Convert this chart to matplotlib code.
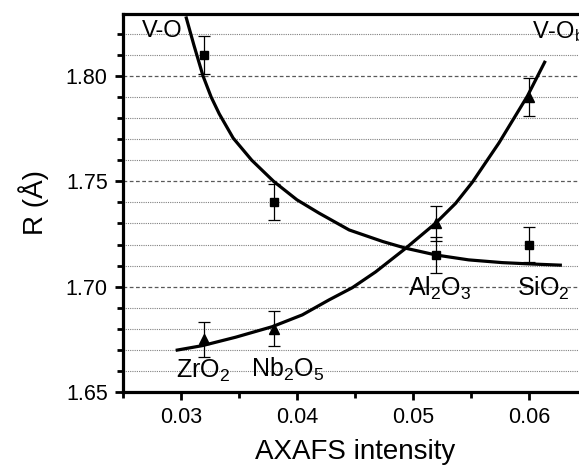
import numpy as np
import matplotlib
matplotlib.use("Agg")
import matplotlib.pyplot as plt
from matplotlib.ticker import MultipleLocator

plt.rcParams['font.family'] = ['Liberation Sans', 'DejaVu Sans']
plt.rcParams['mathtext.fontset'] = 'custom'
plt.rcParams['mathtext.rm'] = 'Liberation Sans'
plt.rcParams['mathtext.it'] = 'Liberation Sans'

# measured points (AXAFS intensity, R)
x_pts = [0.032, 0.038, 0.052, 0.060]
r_vot = [1.810, 1.740, 1.715, 1.720]      # squares
r_vot_err = [0.009, 0.0085, 0.0085, 0.0085]
r_vob = [1.675, 1.680, 1.730, 1.790]      # triangles
r_vob_err = [0.0083, 0.0083, 0.0085, 0.009]

# fitted curves
xt_curve = [0.03046, 0.03112, 0.03190, 0.03260, 0.03330, 0.03450, 0.03610,
            0.03800, 0.04000, 0.04190, 0.04450, 0.04740, 0.04940, 0.05200,
            0.05480, 0.05770, 0.06000, 0.06270]
rt_curve = [1.8275, 1.8145, 1.8000, 1.7900, 1.7820, 1.7705, 1.7600,
            1.7499, 1.7412, 1.7349, 1.7269, 1.7214, 1.7182, 1.7150,
            1.7127, 1.7114, 1.7108, 1.7102]
xb_curve = [0.02968, 0.03184, 0.03471, 0.03787, 0.04046, 0.04276, 0.04477,
            0.04678, 0.04937, 0.05195, 0.05367, 0.05511, 0.05741, 0.05986,
            0.06135]
rb_curve = [1.6699, 1.6720, 1.6760, 1.6810, 1.6866, 1.6937, 1.6995,
            1.7070, 1.7182, 1.7301, 1.7395, 1.7495, 1.7682, 1.7904,
            1.8065]

supports = ['ZrO$_\\mathregular{2}$', 'Nb$_\\mathregular{2}$O$_\\mathregular{5}$',
            'Al$_\\mathregular{2}$O$_\\mathregular{3}$', 'SiO$_\\mathregular{2}$']
support_pos = [(0.02957, 1.6566), (0.03603, 1.6571), (0.04957, 1.6956), (0.05897, 1.6956)]

fig = plt.figure(figsize=(5.79, 4.66), dpi=100)
ax = fig.add_axes([0.2124, 0.1588, 1.0138 - 0.2124, 0.97 - 0.1588])

ax.set_xlim(0.025, 0.065)
ax.set_ylim(1.65, 1.8294)

# grid: dashed at the major ticks, dotted at the minor ones
for yv in np.arange(1.66, 1.83, 0.01):
    if abs(round(yv * 100) % 5) == 0:
        ax.axhline(yv, color='0.35', lw=0.9, ls=(0, (3, 2)), zorder=0)
    else:
        ax.axhline(yv, color='0.5', lw=0.8, ls=(0, (1, 1)), zorder=0)

ax.plot(xt_curve, rt_curve, color='black', lw=2.3, zorder=3)
ax.plot(xb_curve, rb_curve, color='black', lw=2.3, zorder=3)

ax.errorbar(x_pts, r_vot, yerr=r_vot_err, fmt='s', color='black', ms=5.5,
            elinewidth=0.9, capsize=4, capthick=0.9, zorder=4)
ax.errorbar(x_pts, r_vob, yerr=r_vob_err, fmt='^', color='black', ms=6.5,
            elinewidth=0.9, capsize=4, capthick=0.9, zorder=4)

for lab, (xx, yy) in zip(supports, support_pos):
    ax.text(xx, yy, lab, fontsize=18, ha='left', va='baseline')

ax.text(0.02664, 1.8186, 'V-O', fontsize=17, ha='left', va='baseline', zorder=2)
ax.text(0.06026, 1.8181, 'V-O$_\\mathregular{b}$', fontsize=17, ha='left',
        va='baseline', clip_on=False)

ax.xaxis.set_minor_locator(MultipleLocator(0.005))
ax.yaxis.set_minor_locator(MultipleLocator(0.01))
ax.set_xticks([0.03, 0.04, 0.05, 0.06])
ax.set_xticklabels(['0.03', '0.04', '0.05', '0.06'])
ax.set_yticks([1.65, 1.70, 1.75, 1.80])
ax.set_yticklabels(['1.65', '1.70', '1.75', '1.80'])

ax.tick_params(which='major', direction='out', length=6, width=2, labelsize=15.5, pad=5)
ax.tick_params(which='minor', direction='out', length=4, width=2)
ax.tick_params(top=False, right=False)

for s in ['left', 'bottom', 'top', 'right']:
    ax.spines[s].set_linewidth(2.3)

ax.set_xlabel('AXAFS intensity', fontsize=20, labelpad=8)
ax.set_ylabel('R (Å)', fontsize=20, labelpad=12)

fig.savefig('out.png', dpi=100)
